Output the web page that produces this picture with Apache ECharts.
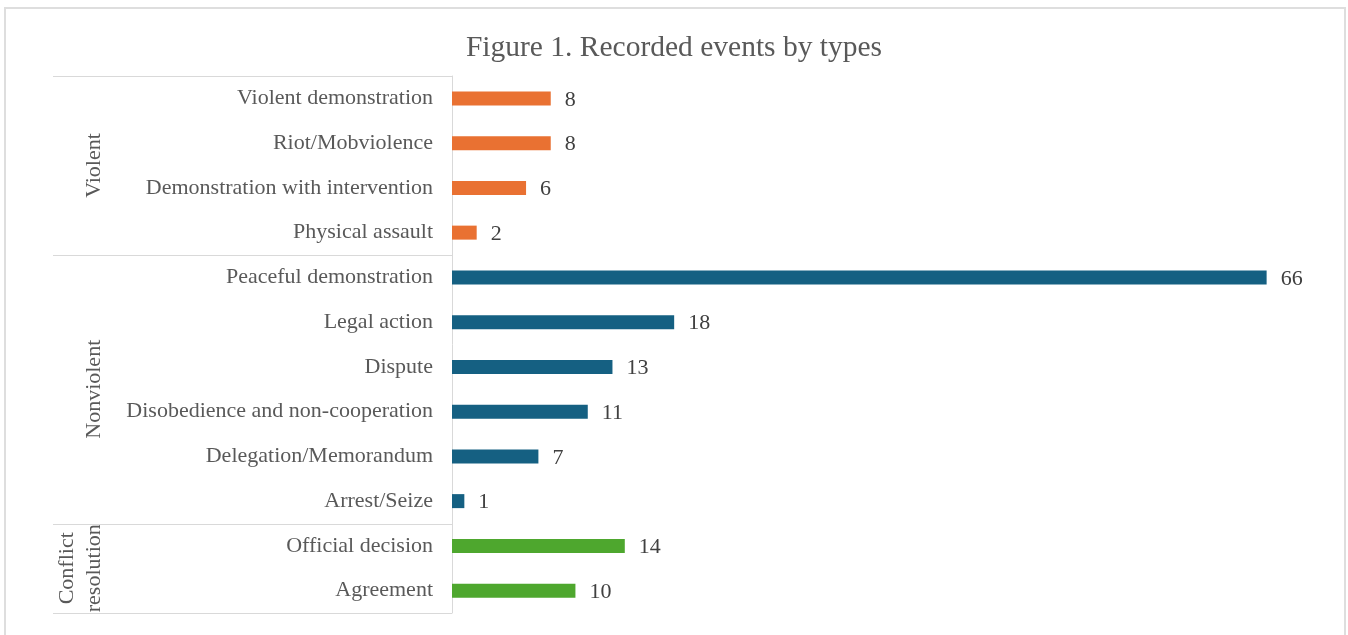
<!DOCTYPE html>
<html>
<head>
<meta charset="utf-8">
<script src="https://cdn.jsdelivr.net/npm/echarts@6/dist/echarts.min.js"></script>
<style>
  html, body { margin: 0; padding: 0; background: #ffffff; }
  #chart { width: 1348px; height: 635px; }
</style>
</head>
<body>
<div id="chart"></div>
<script>
const categories = [
  'Violent demonstration', 'Riot/Mobviolence', 'Demonstration with intervention', 'Physical assault',
  'Peaceful demonstration', 'Legal action', 'Dispute', 'Disobedience and non-cooperation',
  'Delegation/Memorandum', 'Arrest/Seize',
  'Official decision', 'Agreement'
];
const values = [8, 8, 6, 2, 66, 18, 13, 11, 7, 1, 14, 10];
const groupNames = ['Violent', 'Nonviolent', 'Conflict\nresolution'];
const groupSizes = [4, 6, 2];
const groupColors = ['#E97132', '#156082', '#4EA72E'];

const FONT = '"Liberation Serif", "Times New Roman", serif';
const LINE = '#d9d9d9';

// colour for each bar from its group
const barColors = [];
groupSizes.forEach((n, g) => { for (let i = 0; i < n; i++) barColors.push(groupColors[g]); });
const seriesData = values.map((v, i) => ({ value: v, itemStyle: { color: barColors[i] } }));

const chart = echarts.init(document.getElementById('chart'));
const option = {
  backgroundColor: '#ffffff',
  animation: false,
  title: {
    text: 'Figure 1. Recorded events by types',
    left: 'center',
    top: 28,
    textStyle: { fontFamily: FONT, fontSize: 29.5, fontWeight: 'normal', color: '#595959' }
  },
  grid: { left: 452, right: 32, top: 76, bottom: 22, containLabel: false },
  xAxis: {
    type: 'value', min: 0, max: 70,
    axisLine: { show: false }, axisTick: { show: false },
    axisLabel: { show: false }, splitLine: { show: false }
  },
  yAxis: {
    type: 'category',
    inverse: true,
    data: categories,
    axisLine: { show: true, lineStyle: { color: LINE, width: 1 } },
    axisTick: { show: false },
    axisLabel: { margin: 19, fontFamily: FONT, fontSize: 22, color: '#595959', padding: [3, 0, 0, 0] },
    splitLine: { show: false }
  },
  series: [{
    type: 'bar',
    data: seriesData,
    barWidth: 14,
    label: {
      show: true, position: 'right', distance: 14, offset: [0, 1.5],
      fontFamily: FONT, fontSize: 22, color: '#404040'
    }
  }]
};
chart.setOption(option);

// group separators and group labels, placed from the category axis scale
function drawGroups() {
  const half = (chart.convertToPixel({ yAxisIndex: 0 }, 1) - chart.convertToPixel({ yAxisIndex: 0 }, 0)) / 2;
  const axisX = chart.convertToPixel({ xAxisIndex: 0 }, 0);
  const leftX = 53;
  const elements = [];
  // outer frame
  elements.push({ type: 'rect', shape: { x: 5, y: 8, width: 1340, height: 640 },
    style: { fill: 'none', stroke: '#dedede', lineWidth: 2 }, silent: true });
  let start = 0;
  const boundaries = [chart.convertToPixel({ yAxisIndex: 0 }, 0) - half];
  groupSizes.forEach((n, g) => {
    const y0 = chart.convertToPixel({ yAxisIndex: 0 }, start) - half;
    const y1 = chart.convertToPixel({ yAxisIndex: 0 }, start + n - 1) + half;
    boundaries.push(y1);
    elements.push({
      type: 'text',
      x: 94 - (groupNames[g].includes('\n') ? 13 : 0),
      y: (y0 + y1) / 2,
      rotation: Math.PI / 2,
      style: {
        text: groupNames[g], fontFamily: FONT, fontSize: 22, fill: '#595959',
        align: 'center', verticalAlign: 'middle', lineHeight: 27
      },
      silent: true
    });
    start += n;
  });
  boundaries.forEach(y => {
    const yy = Math.round(y) + 0.5;
    elements.push({ type: 'line', shape: { x1: leftX, y1: yy, x2: axisX, y2: yy },
      style: { stroke: LINE, lineWidth: 1 }, silent: true });
  });
  chart.setOption({ graphic: elements });
}
drawGroups();
</script>
</body>
</html>
